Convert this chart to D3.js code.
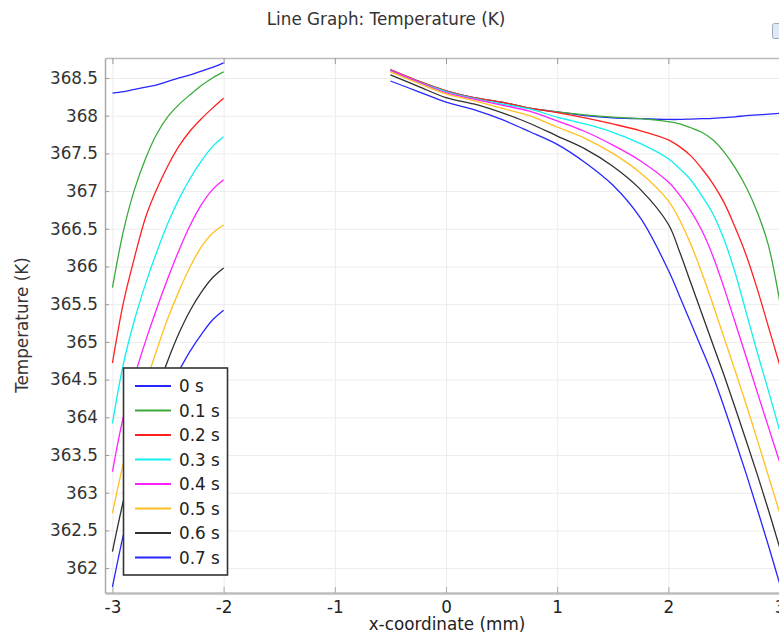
<!DOCTYPE html>
<html>
<head>
<meta charset="utf-8">
<script src="https://cdn.jsdelivr.net/npm/d3@7"></script>
<style>
  body { margin: 0; background: #fff; }
  svg { display: block; font-family: "DejaVu Sans", sans-serif; }
</style>
</head>
<body>
<svg id="vis" width="779" height="635"></svg>
<script>
// time labels + colours
const times = ["0 s", "0.1 s", "0.2 s", "0.3 s", "0.4 s", "0.5 s", "0.6 s", "0.7 s"];
const colors = ["#2626ff", "#3aaa3a", "#ff2020", "#10f0f0", "#ff20ff", "#ffc020", "#303030", "#2626ff"];

// tick labels
const xTicks = [-3, -2, -1, 0, 1, 2, 3];
const yTicks = [362, 362.5, 363, 363.5, 364, 364.5, 365, 365.5, 366, 366.5, 367, 367.5, 368, 368.5];

// left piece, x = -3 .. -2 mm
const xLeft = [-3, -2.9, -2.8, -2.7, -2.6, -2.5, -2.4, -2.3, -2.2, -2.1, -2];
const left0 = [368.30, 368.32, 368.35, 368.38, 368.41, 368.455, 368.50, 368.54, 368.59, 368.64, 368.70];
const left1 = [365.72, 366.48, 367.03, 367.44, 367.76, 367.99, 368.15, 368.28, 368.40, 368.50, 368.58];
const left2 = [364.72, 365.53, 366.13, 366.66, 367.03, 367.34, 367.60, 367.80, 367.96, 368.10, 368.23];
const left3 = [363.92, 364.72, 365.30, 365.78, 366.20, 366.58, 366.90, 367.17, 367.40, 367.59, 367.72];
const left4 = [363.28, 364.02, 364.55, 365.02, 365.45, 365.85, 366.22, 366.55, 366.82, 367.02, 367.15];
const left5 = [362.73, 363.40, 363.95, 364.45, 364.90, 365.32, 365.68, 366.00, 366.26, 366.44, 366.55];
const left6 = [362.22, 362.90, 363.45, 363.92, 364.35, 364.76, 365.12, 365.42, 365.66, 365.85, 365.98];
const left7 = [361.75, 362.45, 363.03, 363.53, 363.96, 364.33, 364.62, 364.88, 365.10, 365.29, 365.42];

// right piece, x = -0.5 .. 3 mm
const xRight = [-0.5, -0.25, 0, 0.25, 0.5, 0.75, 1, 1.25, 1.5, 1.75, 2, 2.1, 2.2, 2.3, 2.4, 2.5, 2.6, 2.7, 2.8, 2.9, 3];
const right0 = [368.60, 368.45, 368.33, 368.24, 368.18, 368.10, 368.05, 368.00, 367.97, 367.96, 367.95, 367.95, 367.955, 367.96, 367.965, 367.975, 367.985, 368.00, 368.01, 368.02, 368.03];
const right1 = [368.61, 368.46, 368.33, 368.24, 368.18, 368.10, 368.05, 368.01, 367.98, 367.96, 367.92, 367.89, 367.84, 367.78, 367.68, 367.52, 367.31, 367.05, 366.72, 366.28, 365.55];
const right2 = [368.61, 368.46, 368.33, 368.24, 368.18, 368.10, 368.04, 367.97, 367.89, 367.80, 367.68, 367.59, 367.47, 367.30, 367.10, 366.85, 366.52, 366.15, 365.70, 365.20, 364.70];
const right3 = [368.60, 368.45, 368.32, 368.23, 368.155, 368.09, 367.98, 367.89, 367.78, 367.63, 367.43, 367.30, 367.15, 366.94, 366.70, 366.36, 365.92, 365.39, 364.86, 364.35, 363.83];
const right4 = [368.60, 368.45, 368.305, 368.22, 368.14, 368.06, 367.93, 367.79, 367.61, 367.40, 367.12, 366.95, 366.74, 366.48, 366.14, 365.72, 365.26, 364.80, 364.33, 363.87, 363.41];
const right5 = [368.58, 368.43, 368.29, 368.20, 368.10, 368.00, 367.85, 367.70, 367.50, 367.24, 366.87, 366.62, 366.30, 365.92, 365.50, 365.06, 364.62, 364.17, 363.70, 363.22, 362.74];
const right6 = [368.54, 368.39, 368.24, 368.155, 368.04, 367.90, 367.73, 367.56, 367.33, 367.02, 366.56, 366.20, 365.79, 365.38, 364.97, 364.56, 364.13, 363.69, 363.24, 362.77, 362.28];
const right7 = [368.46, 368.32, 368.18, 368.08, 367.95, 367.79, 367.62, 367.38, 367.08, 366.64, 365.95, 365.61, 365.26, 364.91, 364.55, 364.14, 363.70, 363.25, 362.78, 362.30, 361.80];

const lefts = [left0, left1, left2, left3, left4, left5, left6, left7];
const rights = [right0, right1, right2, right3, right4, right5, right6, right7];

const series = times.map((t, i) => ({
  name: t,
  color: colors[i],
  left: xLeft.map((x, j) => [x, lefts[i][j]]),
  right: xRight.map((x, j) => [x, rights[i][j]])
}));

const svg = d3.select("#vis");
const mTop = 58, mBottom = 593, mLeft = 105, mRight = 787;
const font = "16.8px";

// SCALES
const x = d3.scaleLinear().domain([-3.067, 3.067]).range([mLeft, mRight]);
const y = d3.scaleLinear().domain([361.67, 368.765]).range([mBottom, mTop]);

svg.append("rect").attr("width", 779).attr("height", 635).attr("fill", "#fff");

// title
svg.append("text")
  .attr("x", 386).attr("y", 25)
  .attr("text-anchor", "middle")
  .style("font-size", font)
  .attr("fill", "#333")
  .text("Line Graph: Temperature (K)");

// small toolbar icon cut at the right edge
svg.append("rect").attr("x", 772.5).attr("y", 23.5).attr("width", 12).attr("height", 15)
  .attr("fill", "#dfe9f5").attr("stroke", "#9ab").attr("rx", 2);

// grid
svg.append("g")
  .attr("transform", `translate(0,${mBottom})`)
  .call(d3.axisBottom(x).tickValues(xTicks).tickSize(-(mBottom - mTop)).tickFormat(""))
  .call(g => g.select(".domain").remove())
  .call(g => g.selectAll("line").attr("stroke", "#ececec"));

svg.append("g")
  .attr("transform", `translate(${mLeft},0)`)
  .call(d3.axisLeft(y).tickValues(yTicks).tickSize(-(mRight - mLeft)).tickFormat(""))
  .call(g => g.select(".domain").remove())
  .call(g => g.selectAll("line").attr("stroke", "#ececec"));

// curves
svg.append("clipPath").attr("id", "clip")
  .append("rect").attr("x", mLeft).attr("y", mTop).attr("width", mRight - mLeft).attr("height", mBottom - mTop);

const line = d3.line()
  .x(d => x(d[0]))
  .y(d => y(d[1]))
  .curve(d3.curveCatmullRom.alpha(0.5));

const plot = svg.append("g").attr("clip-path", "url(#clip)");

series.forEach(s => {
  plot.append("path").datum(s.left)
    .attr("fill", "none").attr("stroke", s.color).attr("stroke-width", 1.3)
    .attr("d", line);
  plot.append("path").datum(s.right)
    .attr("fill", "none").attr("stroke", s.color).attr("stroke-width", 1.3)
    .attr("d", line);
});

// axes
const xAxis = svg.append("g")
  .attr("transform", `translate(0,${mBottom})`)
  .call(d3.axisBottom(x).tickValues(xTicks).tickSizeInner(-6).tickSizeOuter(0).tickPadding(8).tickFormat(d => String(d)));
xAxis.select(".domain").attr("stroke", "#bdbdbd").attr("stroke-width", 2.5);
xAxis.selectAll(".tick line").attr("stroke", "#aaa");
xAxis.selectAll("text").style("font-size", font).attr("fill", "#222").style("font-family", "DejaVu Sans");

const topAxis = svg.append("g")
  .attr("transform", `translate(0,${mTop})`)
  .call(d3.axisTop(x).tickValues(xTicks).tickSizeInner(-6).tickSizeOuter(0).tickFormat(""));
topAxis.select(".domain").attr("stroke", "#bbb").attr("stroke-width", 1.5);
topAxis.selectAll(".tick line").attr("stroke", "#999");

const yAxis = svg.append("g")
  .attr("transform", `translate(${mLeft},0)`)
  .call(d3.axisLeft(y).tickValues(yTicks).tickSizeInner(-4).tickSizeOuter(0).tickPadding(7).tickFormat(d => d));
yAxis.select(".domain").attr("stroke", "#aaa").attr("stroke-width", 1.5);
yAxis.selectAll(".tick line").attr("stroke", "#999");
yAxis.selectAll("text").style("font-size", font).attr("fill", "#333").style("font-family", "DejaVu Sans");

// axis titles
svg.append("text")
  .attr("x", 447).attr("y", 630)
  .attr("text-anchor", "middle")
  .style("font-size", font)
  .attr("fill", "#222")
  .text("x-coordinate (mm)");

svg.append("text")
  .attr("transform", "translate(28,325) rotate(-90)")
  .attr("text-anchor", "middle")
  .style("font-size", font)
  .attr("fill", "#333")
  .text("Temperature (K)");

// legend
const legend = svg.append("g");
legend.append("rect")
  .attr("x", 123.5).attr("y", 368).attr("width", 104).attr("height", 207)
  .attr("fill", "#fff").attr("stroke", "#333").attr("stroke-width", 1.6);

const items = legend.selectAll("g.item")
  .data(series)
  .join("g")
  .attr("class", "item")
  .attr("transform", (d, i) => `translate(0,${386 + i * 24.5})`);

items.append("line")
  .attr("x1", 135).attr("x2", 171)
  .attr("stroke", d => d.color).attr("stroke-width", 2);

items.append("text")
  .attr("x", 179).attr("y", 6)
  .style("font-size", font)
  .attr("fill", "#222")
  .text(d => d.name);
</script>
</body>
</html>
